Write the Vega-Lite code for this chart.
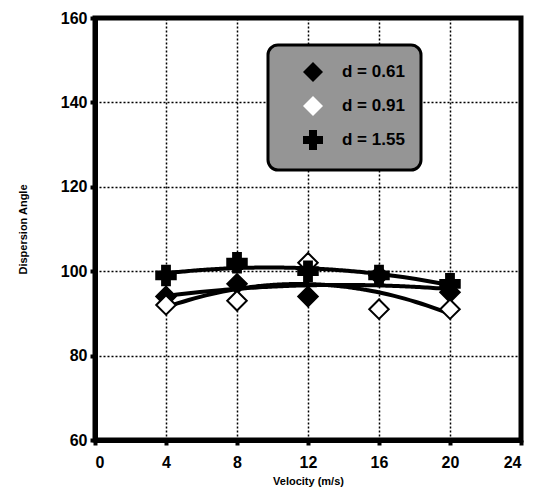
{
  "$schema": "https://vega.github.io/schema/vega-lite/v6.json",
  "autosize": "none",
  "width": 426,
  "height": 422,
  "padding": {"left": 95, "top": 18, "right": 17, "bottom": 55},
  "background": "white",
  "data": {
    "values": [
      {"v": 4, "angle": 94, "series": "d = 0.61"},
      {"v": 8, "angle": 97, "series": "d = 0.61"},
      {"v": 12, "angle": 94, "series": "d = 0.61"},
      {"v": 16, "angle": 99, "series": "d = 0.61"},
      {"v": 20, "angle": 95, "series": "d = 0.61"},
      {"v": 4, "angle": 92, "series": "d = 0.91"},
      {"v": 8, "angle": 93, "series": "d = 0.91"},
      {"v": 12, "angle": 102, "series": "d = 0.91"},
      {"v": 16, "angle": 91, "series": "d = 0.91"},
      {"v": 20, "angle": 91, "series": "d = 0.91"},
      {"v": 4, "angle": 99, "series": "d = 1.55"},
      {"v": 8, "angle": 102, "series": "d = 1.55"},
      {"v": 12, "angle": 100, "series": "d = 1.55"},
      {"v": 16, "angle": 99, "series": "d = 1.55"},
      {"v": 20, "angle": 97, "series": "d = 1.55"}
    ]
  },
  "config": {
    "view": {"stroke": "black", "strokeWidth": 5},
    "font": "Liberation Sans",
    "legend": {"strokeWidth": 3},
    "axis": {
      "labelFont": "Liberation Sans",
      "labelFontWeight": "bold",
      "labelFontSize": 16,
      "labelColor": "black",
      "titleFont": "Liberation Sans",
      "titleFontWeight": "bold",
      "titleFontSize": 11,
      "titleColor": "black",
      "domainColor": "black",
      "domainWidth": 5,
      "tickColor": "black",
      "tickWidth": 4,
      "tickSize": 5,
      "gridColor": "black",
      "gridWidth": 1.5,
      "gridDash": [2, 2],
      "gridOpacity": 1
    }
  },
  "encoding": {
    "x": {
      "field": "v", "type": "quantitative",
      "scale": {"domain": [0, 24], "nice": false, "zero": false},
      "axis": {"values": [0, 4, 8, 12, 16, 20, 24], "title": "Velocity (m/s)", "labelPadding": 9, "titlePadding": 5}
    },
    "y": {
      "field": "angle", "type": "quantitative",
      "scale": {"domain": [60, 160], "nice": false, "zero": false},
      "axis": {"values": [60, 80, 100, 120, 140, 160], "title": "Dispersion Angle", "labelPadding": 3, "titlePadding": 32}
    }
  },
  "layer": [
    {
      "transform": [
        {"regression": "angle", "on": "v", "groupby": ["series"], "method": "poly", "order": 2, "extent": [4, 20]}
      ],
      "mark": {"type": "line", "color": "black", "strokeWidth": 4, "interpolate": "monotone"},
      "encoding": {
        "detail": {"field": "series"}
      }
    },
    {
      "mark": {"type": "point", "stroke": "black", "strokeWidth": 2, "opacity": 1, "filled": false},
      "encoding": {
        "shape": {
          "field": "series", "type": "nominal",
          "scale": {"domain": ["d = 0.61", "d = 0.91", "d = 1.55"], "range": ["diamond", "diamond", "cross"]},
          "legend": {
            "title": null,
            "orient": "none",
            "legendX": 173,
            "legendY": 27,
            "fillColor": "#959595",
            "strokeColor": "black",
            "cornerRadius": 10,
            "padding": 16,
            "symbolOffset": 18,
            "symbolSize": 400,
            "symbolStrokeColor": "black",
            "symbolStrokeWidth": 2,
            "labelFont": "Liberation Sans",
            "labelFontWeight": "bold",
            "labelFontSize": 17,
            "labelColor": "black",
            "labelOffset": 18,
            "rowPadding": 6,
            "labelLimit": 200
          }
        },
        "fill": {
          "field": "series", "type": "nominal",
          "scale": {"domain": ["d = 0.61", "d = 0.91", "d = 1.55"], "range": ["black", "white", "black"]},
          "legend": null
        },
        "size": {"value": 380}
      }
    }
  ]
}
